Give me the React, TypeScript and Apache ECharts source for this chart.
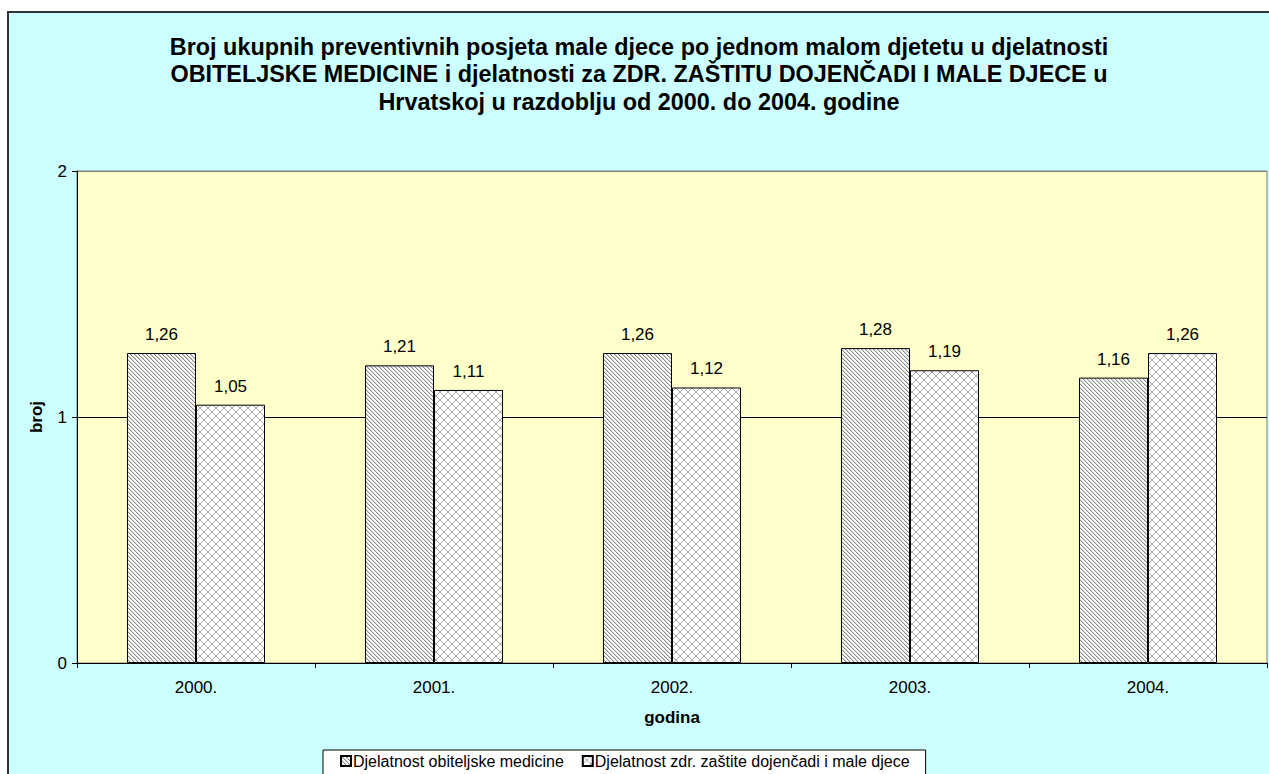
import React, { useEffect, useRef } from "react";
import * as echarts from "echarts";

const categories = ["2000.", "2001.", "2002.", "2003.", "2004."];
const seriesNames = [
  "Djelatnost obiteljske medicine",
  "Djelatnost zdr. zaštite dojenčadi i male djece",
];
const obiteljska = [1.26, 1.21, 1.26, 1.28, 1.16];
const dojencad = [1.05, 1.11, 1.12, 1.19, 1.26];
const titleLines = [
  "Broj ukupnih preventivnih posjeta male djece po jednom malom djetetu u djelatnosti",
  "OBITELJSKE MEDICINE i djelatnosti za ZDR. ZAŠTITU DOJENČADI I MALE DJECE u",
  "Hrvatskoj u razdoblju od 2000. do 2004. godine",
];

const FONT = "Arial, 'Liberation Sans', sans-serif";
const FS = 17;

function makeStripes(): string {
  const c = document.createElement("canvas");
  c.width = 4;
  c.height = 4;
  const ctx = c.getContext("2d")!;
  ctx.fillStyle = "#ffffff";
  ctx.fillRect(0, 0, 4, 4);
  for (let i = 0; i < 4; i++) {
    ctx.fillStyle = "#8a8a8a";
    ctx.fillRect(i, i, 1, 1);
    ctx.fillStyle = "#d4d4d4";
    ctx.fillRect((i + 1) % 4, i, 1, 1);
  }
  return c.toDataURL();
}

function makeDiamonds(): string {
  const c = document.createElement("canvas");
  c.width = 8;
  c.height = 8;
  const ctx = c.getContext("2d")!;
  ctx.fillStyle = "#ffffff";
  ctx.fillRect(0, 0, 8, 8);
  ctx.fillStyle = "#a8a8a8";
  for (let i = 0; i < 8; i++) {
    ctx.fillRect(i, i, 1, 1);
    ctx.fillRect(7 - i, i, 1, 1);
  }
  return c.toDataURL();
}

export default function App() {
  const ref = useRef<HTMLDivElement>(null);
  useEffect(() => {
    if (!ref.current) return;
    const chart = echarts.init(ref.current, null, { renderer: "svg" });
    const p1 = { image: makeStripes(), repeat: "repeat" };
    const p2 = { image: makeDiamonds(), repeat: "repeat" };
    const fmt = (p: any) => String(p.value).replace(".", ",");
    const labelStyle = {
      show: true,
      position: "top",
      distance: 10,
      fontSize: FS,
      color: "#000",
      fontFamily: FONT,
      formatter: fmt,
    };
    chart.setOption({
      animation: false,
      backgroundColor: "transparent",
      textStyle: { fontFamily: FONT, fontSize: FS },
      title: {
        text: titleLines.join("\n"),
        left: 639,
        top: 33,
        textAlign: "center",
        padding: 0,
        textStyle: {
          fontFamily: FONT,
          fontSize: 23.4,
          fontWeight: "bold",
          color: "#000",
          lineHeight: 27.5,
        },
      },
      grid: {
        left: 77,
        top: 171,
        right: 2,
        bottom: 111,
        show: true,
        backgroundColor: "#FFFFCC",
        borderColor: "#808080",
        borderWidth: 1,
      },
      legend: {
        left: 323,
        top: 750,
        padding: [3, 16, 8, 17],
        itemWidth: 10,
        itemHeight: 10,
        itemGap: 18,
        icon: "rect",
        backgroundColor: "#ffffff",
        borderColor: "#000000",
        borderWidth: 1,
        borderRadius: 0,
        textStyle: { fontSize: 16, color: "#000", fontFamily: FONT, padding: [0, 0, 0, -3] },
        data: seriesNames,
      },
      xAxis: {
        type: "category",
        data: categories,
        name: "godina",
        nameLocation: "middle",
        nameGap: 46,
        nameTextStyle: { fontWeight: "bold", fontSize: FS, color: "#000", fontFamily: FONT },
        axisLine: { lineStyle: { color: "#000", width: 1 } },
        axisTick: { show: true, length: 5, lineStyle: { color: "#000" } },
        axisLabel: { fontSize: FS, color: "#000", margin: 16, fontFamily: FONT },
      },
      yAxis: {
        type: "value",
        min: 0,
        max: 2,
        interval: 1,
        name: "broj",
        nameLocation: "middle",
        nameGap: 32,
        nameTextStyle: { fontWeight: "bold", fontSize: FS, color: "#000", fontFamily: FONT },
        axisLine: { show: true, lineStyle: { color: "#000", width: 1 } },
        axisTick: { show: true, length: 5, lineStyle: { color: "#000" } },
        axisLabel: { fontSize: FS, color: "#000", margin: 10, fontFamily: FONT },
        splitLine: { show: true, lineStyle: { color: ["#000", "#000", "#808080"], width: 1 } },
      },
      series: [
        {
          name: seriesNames[0],
          type: "bar",
          data: obiteljska,
          barGap: "0%",
          barCategoryGap: "42%",
          itemStyle: { color: p1, borderColor: "#000", borderWidth: 1 },
          label: labelStyle,
        },
        {
          name: seriesNames[1],
          type: "bar",
          data: dojencad,
          itemStyle: { color: p2, borderColor: "#000", borderWidth: 1 },
          label: labelStyle,
        },
      ],
    });
    return () => chart.dispose();
  }, []);
  return (
    <div style={{ position: "absolute", left: 0, top: 0, width: 1269, height: 774, background: "#fff", overflow: "hidden" }}>
      <div
        style={{
          position: "absolute",
          left: 7,
          top: 11,
          width: 1300,
          height: 800,
          background: "#CCFFFF",
          border: "2px solid #333",
          boxSizing: "border-box",
        }}
      />
      <div ref={ref} style={{ position: "absolute", left: 0, top: 0, width: 1269, height: 774 }} />
    </div>
  );
}
